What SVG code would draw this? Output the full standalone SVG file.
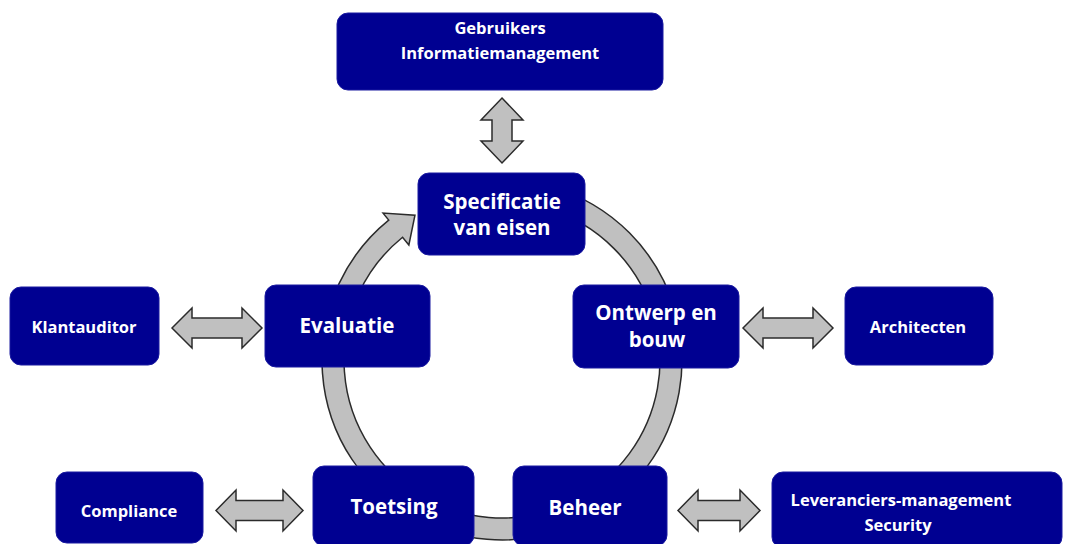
<svg xmlns="http://www.w3.org/2000/svg" width="1065" height="544" viewBox="0 0 1065 544">
<style>
.node{fill:#000091;stroke:#1a1aa0;stroke-width:1}
.arr{fill:#c0c0c0;stroke:#2b2b2b;stroke-width:1.5;stroke-linejoin:miter}
.t{font-family:"Open Sans","Noto Sans",sans-serif;font-weight:bold;fill:#ffffff;text-anchor:middle}
.s{font-size:16.5px}
.b{font-size:20.5px}
</style>
<rect width="1065" height="544" fill="#ffffff"/>
<g id="connectors">
<path class="arr" d="M470.74,182.73 A180,180 0 1 1 388.72,220.11 L383.06,213.12 L414.96,215.14 L408.86,244.98 L402.57,237.21 A158,158 0 1 0 474.56,204.40 Z"/>
<path class="arr" d="M502,98 L523,120 L512,120 L512,141 L523,141 L502,163 L481,141 L492,141 L492,120 L481,120 Z"/>
<path class="arr" d="M172,328 L192,308 L192,318 L242,318 L242,308 L262,328 L242,348 L242,338 L192,338 L192,348 Z"/>
<path class="arr" d="M743,328 L763,308 L763,318 L813,318 L813,308 L833,328 L813,348 L813,338 L763,338 L763,348 Z"/>
<path class="arr" d="M216,510.5 L236,490 L236,500.5 L283,500.5 L283,490 L303,510.5 L283,531 L283,520.5 L236,520.5 L236,531 Z"/>
<path class="arr" d="M678,510.5 L698,490 L698,500.5 L740,500.5 L740,490 L760,510.5 L740,531 L740,520.5 L698,520.5 L698,531 Z"/>
</g>
<g id="gebruikers">
<rect class="node" x="337" y="13" width="326" height="77" rx="11"/>
<text class="t s" x="500" y="34">Gebruikers</text>
<text class="t s" x="500" y="59">Informatiemanagement</text>
</g>
<g id="specificatie">
<rect class="node" x="418" y="173" width="167" height="82" rx="11"/>
<text class="t b" x="502" y="209">Specificatie</text>
<text class="t b" x="502" y="235">van eisen</text>
</g>
<g id="evaluatie">
<rect class="node" x="265" y="285" width="165" height="82" rx="11"/>
<text class="t b" x="347" y="333">Evaluatie</text>
</g>
<g id="klantauditor">
<rect class="node" x="10" y="287" width="149" height="78" rx="11"/>
<text class="t s" x="84" y="333">Klantauditor</text>
</g>
<g id="ontwerp">
<rect class="node" x="573" y="285" width="166" height="83" rx="11"/>
<text class="t b" x="656" y="320">Ontwerp en</text>
<text class="t b" x="657" y="347">bouw</text>
</g>
<g id="architecten">
<rect class="node" x="845" y="287" width="148" height="78" rx="11"/>
<text class="t s" x="918" y="333">Architecten</text>
</g>
<g id="compliance">
<rect class="node" x="56" y="472" width="147" height="71" rx="11"/>
<text class="t s" x="129" y="517">Compliance</text>
</g>
<g id="toetsing">
<rect class="node" x="313" y="466" width="161" height="80" rx="11"/>
<text class="t b" x="394" y="514">Toetsing</text>
</g>
<g id="beheer">
<rect class="node" x="513" y="466" width="154" height="80" rx="11"/>
<text class="t b" x="585" y="515">Beheer</text>
</g>
<g id="leveranciers">
<rect class="node" x="772" y="472" width="290" height="76" rx="11"/>
<text class="t s" x="901" y="506">Leveranciers-management</text>
<text class="t s" x="898" y="531">Security</text>
</g>
</svg>
